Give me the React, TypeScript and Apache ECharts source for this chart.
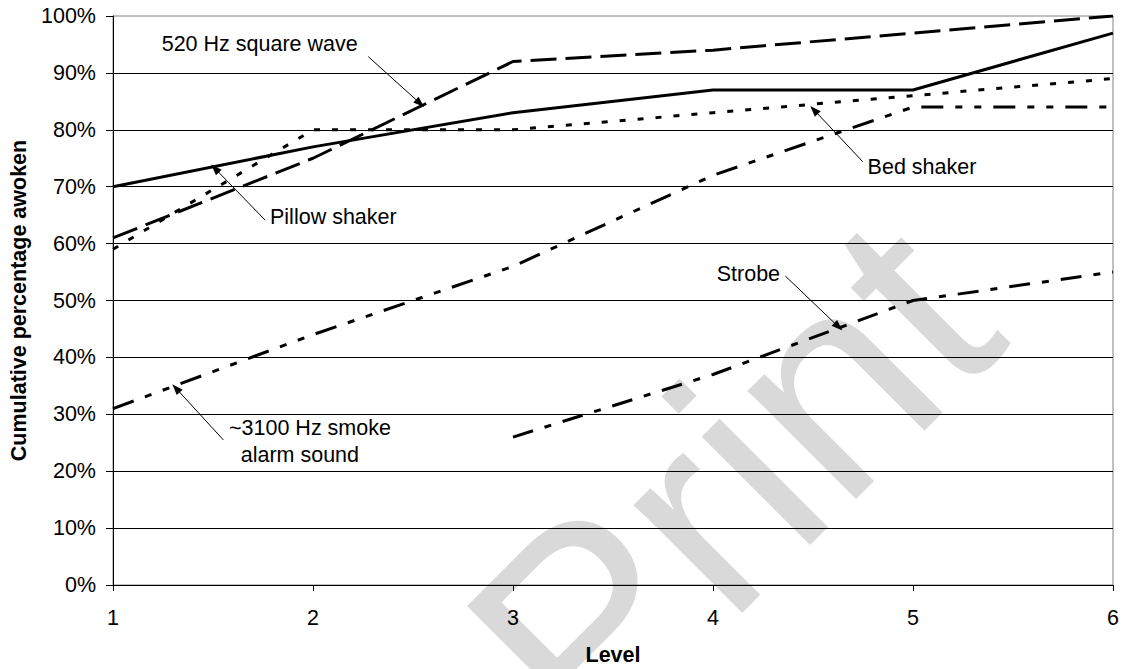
import React, { useEffect, useRef } from "react";
import * as echarts from "echarts";

const levels = [1, 2, 3, 4, 5, 6];
const pillowShaker = [70, 77, 83, 87, 87, 97];
const squareWave520 = [61, 75, 92, 94, 97, 100];
const bedShaker = [59, 80, 80, 83, 86, 89];
const smokeAlarm3100 = [31, 44, 56, 72, 84, 84];
const strobe = [null, null, 26, 37, 50, 55];

// annotation texts: [label, level, percent] (left edge, vertical middle)
const noteTexts: [string, number, number][] = [
  ["520 Hz square wave", 1.2435, 95.1],
  ["Pillow shaker", 1.785, 64.7],
  ["Bed shaker", 4.773, 73.5],
  ["~3100 Hz smoke", 1.58, 27.6],
  ["alarm sound", 1.6385, 22.85],
  ["Strobe", 4.0185, 54.7],
];
// arrows: [fromLevel, fromPct, toLevel, toPct]
const noteArrows: [number, number, number, number][] = [
  [2.2765, 92.85, 2.535, 84.66],
  [1.76, 64.15, 1.51, 73.2],
  [4.7485, 74.4, 4.505, 83.5],
  [1.5517, 25.5, 1.315, 34.57],
  [4.3617, 54.3, 4.6267, 45.4],
];

const FONT = "'Liberation Sans', Arial, sans-serif";

export default function App() {
  const ref = useRef<HTMLDivElement>(null);
  useEffect(() => {
    if (!ref.current) return;
    const chart = echarts.init(ref.current, null, { renderer: "svg" });
    const mk = (name: string, vals: (number | null)[], type: any) => ({
      name,
      type: "line",
      data: levels.map((l, i) => [l, vals[i]]),
      showSymbol: false,
      symbol: "none",
      connectNulls: false,
      lineStyle: { color: "#000", width: 3, type, cap: "butt" },
      z: 3,
    });
    const annot = {
      name: "annotations",
      type: "line",
      data: [],
      z: 4,
      markLine: {
        silent: true,
        animation: false,
        symbol: ["none", "triangle"],
        symbolSize: [8, 11],
        lineStyle: { color: "#000", width: 1, type: "solid" },
        label: { show: false },
        emphasis: { disabled: true },
        data: noteArrows.map(([a, b, c, d]) => [
          { coord: [a, b] },
          { coord: [c, d] },
        ]),
      },
      markPoint: {
        silent: true,
        animation: false,
        symbol: "circle",
        symbolSize: 0,
        itemStyle: { color: "transparent" },
        label: {
          show: true,
          position: "right",
          distance: 0,
          color: "#000",
          fontSize: 21.5,
          fontFamily: FONT,
        },
        data: noteTexts.map(([t, x, y]) => ({
          coord: [x, y],
          value: t,
          label: { formatter: t },
        })),
      },
    };
    chart.setOption({
      animation: false,
      backgroundColor: "#fff",
      grid: {
        left: 113,
        right: 18,
        top: 16,
        bottom: 84,
        outerBoundsMode: "none",
        containLabel: false,
        show: true,
        borderColor: "#808080",
        borderWidth: 1,
        backgroundColor: "transparent",
        z: 1,
      },
      xAxis: {
        type: "value",
        min: 1,
        max: 6,
        interval: 1,
        z: 2,
        name: "Level",
        nameLocation: "middle",
        nameGap: 59,
        nameTextStyle: { fontSize: 21.5, fontWeight: "bold", fontFamily: FONT, color: "#000" },
        axisLine: { show: true, lineStyle: { color: "#000", width: 1 } },
        axisTick: { show: true, length: 6, lineStyle: { color: "#000" } },
        axisLabel: { fontSize: 21.5, fontFamily: FONT, color: "#000", margin: 22 },
        splitLine: { show: false },
      },
      yAxis: {
        type: "value",
        min: 0,
        max: 100,
        interval: 10,
        z: 2,
        name: "Cumulative percentage awoken",
        nameLocation: "middle",
        nameGap: 82,
        nameTextStyle: { fontSize: 21.5, fontWeight: "bold", fontFamily: FONT, color: "#000" },
        axisLine: { show: true, lineStyle: { color: "#000", width: 1 } },
        axisTick: { show: true, length: 7, lineStyle: { color: "#000" } },
        axisLabel: {
          fontSize: 21.5,
          fontFamily: FONT,
          color: "#000",
          margin: 17,
          formatter: "{value}%",
        },
        splitLine: { show: true, showMaxLine: false, lineStyle: { color: "#000", width: 1 } },
      },
      graphic: {
        elements: [
          {
            type: "text",
            x: 731,
            y: 482,
            rotation: Math.PI / 4,
            z: -10,
            silent: true,
            style: {
              text: "Print",
              fontSize: 290,
              fontFamily: FONT,
              fill: "#d9d9d9",
              align: "center",
              verticalAlign: "middle",
            },
          },
        ],
      },
      series: [
        mk("Pillow shaker", pillowShaker, "solid"),
        mk("520 Hz square wave", squareWave520, [26, 9]),
        mk("Bed shaker", bedShaker, [6, 12]),
        mk("~3100 Hz smoke alarm sound", smokeAlarm3100, [22, 12, 7, 12, 7, 12]),
        mk("Strobe", strobe, [21, 12, 7, 12]),
        annot,
      ],
    });
    return () => chart.dispose();
  }, []);
  return (
    <div
      ref={ref}
      style={{ position: "fixed", left: 0, top: 0, width: 1131, height: 669 }}
    />
  );
}
